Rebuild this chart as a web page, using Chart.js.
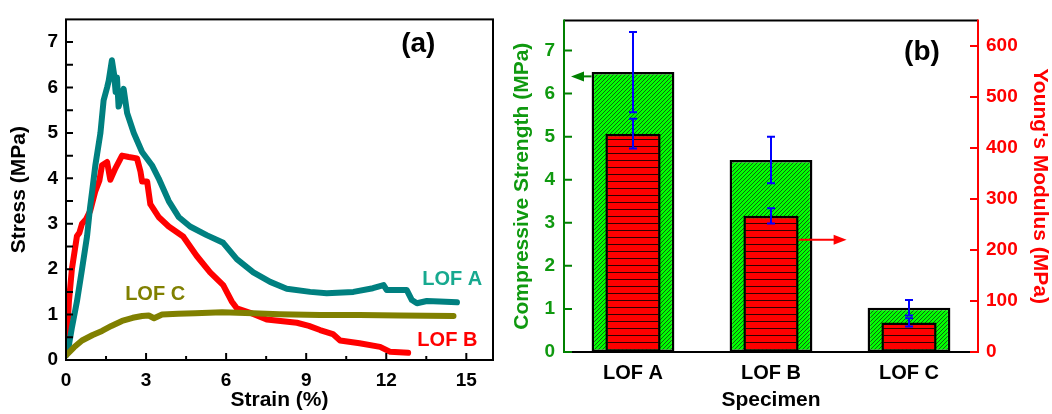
<!DOCTYPE html>
<html>
<head>
<meta charset="utf-8">
<script src="https://cdn.jsdelivr.net/npm/chart.js@4.4.1/dist/chart.umd.min.js"></script>
<style>
  html, body { margin: 0; padding: 0; background: #fff; }
  #wrap { position: relative; width: 1052px; height: 414px; overflow: hidden; }
  #chartA { position: absolute; left: 0; top: 0; }
  #chartB { position: absolute; left: 500px; top: 0; }
</style>
</head>
<body>
<div id="wrap">
  <canvas id="chartA" width="500" height="414"></canvas>
  <canvas id="chartB" width="552" height="414"></canvas>
</div>
<script>
// (a) stress-strain curves
const strainA = [0, 0.1, 0.22, 0.41, 0.6, 0.79, 0.9, 0.98, 1.1, 1.29, 1.41, 1.54, 1.6, 1.72, 1.8, 1.86, 1.91, 1.97, 2.16, 2.29, 2.54, 2.85, 3.22, 3.47, 3.85, 4.22, 4.65, 5.27, 5.89, 6.4, 7.02, 7.65, 8.27, 9.15, 9.77, 10.77, 11.5, 11.9, 12.02, 12.77, 12.96, 13.15, 13.52, 14.0, 14.65];
const stressA = [0.1, 0.3, 0.71, 1.29, 2.0, 2.73, 3.35, 3.72, 4.29, 5.0, 5.72, 6.0, 6.15, 6.6, 6.3, 5.9, 6.22, 5.58, 5.97, 5.44, 5.0, 4.58, 4.29, 4.0, 3.5, 3.15, 2.94, 2.75, 2.58, 2.22, 1.93, 1.72, 1.57, 1.5, 1.47, 1.5, 1.58, 1.65, 1.54, 1.54, 1.32, 1.25, 1.3, 1.29, 1.27];

const strainB = [0, 0.11, 0.22, 0.41, 0.5, 0.6, 0.75, 0.91, 1.1, 1.25, 1.35, 1.54, 1.66, 1.85, 2.1, 2.35, 2.66, 2.79, 2.85, 3.04, 3.16, 3.47, 3.85, 4.39, 4.9, 5.4, 5.89, 6.21, 6.4, 6.9, 7.52, 8.65, 9.1, 9.52, 10.0, 10.27, 11.0, 11.77, 12.15, 12.82];
const stressB = [0.14, 1.29, 2.0, 2.73, 2.8, 3.0, 3.1, 3.29, 3.72, 3.95, 4.29, 4.36, 3.97, 4.22, 4.5, 4.47, 4.44, 4.15, 3.93, 3.93, 3.43, 3.15, 2.94, 2.72, 2.29, 1.93, 1.65, 1.29, 1.14, 1.04, 0.89, 0.82, 0.75, 0.66, 0.57, 0.43, 0.37, 0.29, 0.18, 0.16];

const strainC = [0, 0.3, 0.6, 1.0, 1.35, 1.7, 2.1, 2.5, 2.85, 3.1, 3.3, 3.6, 4.2, 4.84, 5.85, 7.0, 8.0, 9.52, 11.0, 12.5, 14.52];
const stressC = [0.1, 0.28, 0.43, 0.55, 0.64, 0.75, 0.86, 0.93, 0.97, 0.98, 0.92, 1.0, 1.02, 1.03, 1.05, 1.03, 1.01, 0.99, 0.99, 0.98, 0.97];

const strainTicks = [0, 3, 6, 9, 12, 15];
const stressTicks = [0, 1, 2, 3, 4, 5, 6, 7];

// (b) bars with error bars
const specimens = ['LOF A', 'LOF B', 'LOF C'];
const strength = [6.5, 4.46, 1.03];
const strengthErr = [0.93, 0.54, 0.18];
const modulus = [428, 267, 58];
const modulusErr = [29, 15, 8];
const strengthTicks = [0, 1, 2, 3, 4, 5, 6, 7];
const modulusTicks = [0, 100, 200, 300, 400, 500, 600];

const FONT = "'Liberation Sans', Arial, sans-serif";
const GREEN = '#0f990f';
Chart.defaults.font.family = FONT;
Chart.defaults.font.weight = 'bold';
Chart.defaults.color = '#000';

function pts(xs, ys) {
    return xs.map((x, i) => ({ x: x, y: ys[i] }));
}

function makePattern(fill, kind) {
    const c = document.createElement('canvas');
    const g = c.getContext('2d');
    if (kind === 'diag') {
        c.width = 4; c.height = 4;
        g.fillStyle = fill;
        g.fillRect(0, 0, 4, 4);
        g.strokeStyle = '#1a1a1a';
        g.lineWidth = 0.7;
        g.beginPath();
        g.moveTo(0, 4); g.lineTo(4, 0);
        g.moveTo(-1, 1); g.lineTo(1, -1);
        g.moveTo(3, 5); g.lineTo(5, 3);
        g.stroke();
    } else {
        c.width = 4; c.height = 7;
        g.fillStyle = fill;
        g.fillRect(0, 0, 4, 7);
        g.fillStyle = '#300';
        g.fillRect(0, 6, 4, 1);
    }
    return g.createPattern(c, 'repeat');
}

const frameA = {
    id: 'frameA',
    afterDatasetsDraw(chart) {
        const { ctx, chartArea: a, scales: { x, y } } = chart;
        ctx.save();
        ctx.strokeStyle = '#000';
        ctx.lineWidth = 2;
        ctx.strokeRect(a.left, a.top, a.right - a.left, a.bottom - a.top);
        ctx.beginPath();
        strainTicks.forEach(v => {
            let px = x.getPixelForValue(v);
            ctx.moveTo(px, a.bottom); ctx.lineTo(px, a.bottom - 7);
            px = x.getPixelForValue(v + 1.5);
            if (px < a.right) { ctx.moveTo(px, a.bottom); ctx.lineTo(px, a.bottom - 4); }
        });
        stressTicks.forEach(v => {
            let py = y.getPixelForValue(v);
            ctx.moveTo(a.left, py); ctx.lineTo(a.left + 7, py);
            py = y.getPixelForValue(v + 0.5);
            if (py > a.top) { ctx.moveTo(a.left, py); ctx.lineTo(a.left + 7, py); }
        });
        ctx.stroke();

        ctx.textAlign = 'center';
        ctx.textBaseline = 'middle';
        ctx.font = 'bold 28px ' + FONT;
        ctx.fillStyle = '#000';
        ctx.fillText('(a)', x.getPixelForValue(13.2), y.getPixelForValue(6.95));
        ctx.font = 'bold 20px ' + FONT;
        ctx.fillStyle = '#17a98f';
        ctx.fillText('LOF A', x.getPixelForValue(14.47), y.getPixelForValue(1.78));
        ctx.fillStyle = '#ff0000';
        ctx.fillText('LOF B', x.getPixelForValue(14.29), y.getPixelForValue(0.43));
        ctx.fillStyle = '#808000';
        ctx.fillText('LOF C', x.getPixelForValue(3.34), y.getPixelForValue(1.44));
        ctx.restore();
    }
};

const lineStyle = { pointRadius: 0, borderWidth: 6, borderJoinStyle: 'round', borderCapStyle: 'round', tension: 0 };

const chartA = new Chart(document.getElementById('chartA'), {
    type: 'line',
    data: {
        datasets: [
            Object.assign({ label: 'LOF A', data: pts(strainA, stressA), borderColor: '#008080', order: 1 }, lineStyle),
            Object.assign({ label: 'LOF B', data: pts(strainB, stressB), borderColor: '#ff0000', order: 2 }, lineStyle),
            Object.assign({ label: 'LOF C', data: pts(strainC, stressC), borderColor: '#808000', order: 0 }, lineStyle)
        ]
    },
    options: {
        responsive: false,
        animation: false,
        layout: { padding: { top: 11, right: 7, left: 0, bottom: 0 } },
        plugins: { legend: { display: false }, tooltip: { enabled: false } },
        scales: {
            x: {
                type: 'linear', min: 0, max: 16,
                grid: { display: false, drawTicks: false },
                border: { display: false },
                afterBuildTicks: s => { s.ticks = strainTicks.map(v => ({ value: v })); },
                afterFit: s => { s.height = 54; },
                ticks: { font: { size: 19, weight: 'bold' }, padding: 9, maxRotation: 0 },
                title: { display: true, text: 'Strain (%)', font: { size: 21, weight: 'bold' }, padding: { top: 0, bottom: 1 } }
            },
            y: {
                type: 'linear', min: 0, max: 7.5,
                grid: { display: false, drawTicks: false },
                border: { display: false },
                afterBuildTicks: s => { s.ticks = stressTicks.map(v => ({ value: v })); },
                afterFit: s => { s.width = 66; },
                ticks: { font: { size: 19, weight: 'bold' }, padding: 8 },
                title: { display: true, text: 'Stress (MPa)', font: { size: 21, weight: 'bold' }, padding: { top: 7, bottom: 0 } }
            }
        }
    },
    plugins: [frameA]
});

function arrow(ctx, x1, y, x2, color) {
    const dir = Math.sign(x2 - x1);
    ctx.strokeStyle = color;
    ctx.fillStyle = color;
    ctx.lineWidth = 2;
    ctx.beginPath();
    ctx.moveTo(x1, y); ctx.lineTo(x2 - dir * 10, y);
    ctx.stroke();
    ctx.beginPath();
    ctx.moveTo(x2, y);
    ctx.lineTo(x2 - dir * 13, y - 5);
    ctx.lineTo(x2 - dir * 13, y + 5);
    ctx.closePath();
    ctx.fill();
}

const decorB = {
    id: 'decorB',
    afterDatasetsDraw(chart) {
        const { ctx, chartArea: a, scales: { x, yL, yR } } = chart;
        ctx.save();
        ctx.lineWidth = 2;
        ctx.strokeStyle = '#000';
        ctx.beginPath();
        ctx.moveTo(a.left, a.top); ctx.lineTo(a.right, a.top);
        ctx.moveTo(a.left, a.bottom); ctx.lineTo(a.right, a.bottom);
        ctx.stroke();
        ctx.strokeStyle = '#008000';
        ctx.beginPath();
        ctx.moveTo(a.left, a.top - 1); ctx.lineTo(a.left, a.bottom + 1);
        strengthTicks.forEach(v => {
            const py = yL.getPixelForValue(v);
            ctx.moveTo(a.left, py); ctx.lineTo(a.left + 8, py);
        });
        ctx.stroke();
        ctx.strokeStyle = '#ff0000';
        ctx.beginPath();
        ctx.moveTo(a.right, a.top - 1); ctx.lineTo(a.right, a.bottom + 1);
        modulusTicks.forEach(v => {
            const py = yR.getPixelForValue(v);
            ctx.moveTo(a.right, py); ctx.lineTo(a.right - 8, py);
        });
        ctx.stroke();

        // error bars
        ctx.strokeStyle = '#0000ff';
        ctx.lineWidth = 2;
        chart.data.datasets.forEach((ds, di) => {
            const meta = chart.getDatasetMeta(di);
            const ys = chart.scales[ds.yAxisID];
            const errs = ds.yAxisID === 'yL' ? strengthErr : modulusErr;
            meta.data.forEach((bar, i) => {
                const top = ys.getPixelForValue(ds.data[i] + errs[i]);
                const bot = ys.getPixelForValue(ds.data[i] - errs[i]);
                ctx.beginPath();
                ctx.moveTo(bar.x, top); ctx.lineTo(bar.x, bot);
                ctx.moveTo(bar.x - 4, top); ctx.lineTo(bar.x + 4, top);
                ctx.moveTo(bar.x - 4, bot); ctx.lineTo(bar.x + 4, bot);
                ctx.stroke();
            });
        });

        // arrows pointing to each axis
        const gBar = chart.getDatasetMeta(1).data[0];
        arrow(ctx, gBar.x - gBar.width / 2, yL.getPixelForValue(6.4), a.left + 7, '#008000');
        const rBar = chart.getDatasetMeta(0).data[1];
        const rx = rBar.x + rBar.width / 2;
        arrow(ctx, rx, yR.getPixelForValue(220), rx + 48, '#ff0000');

        ctx.fillStyle = '#000';
        ctx.font = 'bold 28px ' + FONT;
        ctx.textAlign = 'center';
        ctx.textBaseline = 'middle';
        ctx.fillText('(b)', x.getPixelForValue(2) + 13, yL.getPixelForValue(6.95));
        ctx.restore();
    }
};

const chartB = new Chart(document.getElementById('chartB'), {
    type: 'bar',
    data: {
        labels: specimens,
        datasets: [
            {
                label: "Young's Modulus", data: modulus, yAxisID: 'yR',
                backgroundColor: makePattern('#ff0000', 'horiz'),
                borderColor: '#000', borderWidth: 2.5, borderSkipped: false,
                barPercentage: 0.4, categoryPercentage: 1, grouped: false, order: 1
            },
            {
                label: 'Compressive Strength', data: strength, yAxisID: 'yL',
                backgroundColor: makePattern('#00ff00', 'diag'),
                borderColor: '#000', borderWidth: 2.5, borderSkipped: false,
                barPercentage: 0.6, categoryPercentage: 1, grouped: false, order: 2
            }
        ]
    },
    options: {
        responsive: false,
        animation: false,
        layout: { padding: { top: 14, right: 0, left: 0, bottom: 0 } },
        plugins: { legend: { display: false }, tooltip: { enabled: false } },
        scales: {
            x: {
                grid: { display: false, drawTicks: false },
                border: { display: false },
                afterFit: s => { s.height = 62; },
                ticks: { font: { size: 20, weight: 'bold' }, padding: 9 },
                title: { display: true, text: 'Specimen', font: { size: 21, weight: 'bold' }, padding: { top: 0, bottom: 1 } }
            },
            yL: {
                position: 'left', min: 0, max: 7.7,
                grid: { display: false, drawTicks: false },
                border: { display: false },
                afterBuildTicks: s => { s.ticks = strengthTicks.map(v => ({ value: v })); },
                afterFit: s => { s.width = 64; },
                ticks: { color: GREEN, font: { size: 19, weight: 'bold' }, padding: 9 },
                title: { display: true, text: 'Compressive Strength (MPa)', color: GREEN, font: { size: 21, weight: 'bold' }, padding: { top: 10, bottom: 0 } }
            },
            yR: {
                position: 'right', min: 0, max: 650,
                grid: { display: false, drawTicks: false },
                border: { display: false },
                afterBuildTicks: s => { s.ticks = modulusTicks.map(v => ({ value: v })); },
                afterFit: s => { s.width = 74; },
                ticks: { color: '#ff0000', font: { size: 19, weight: 'bold' }, padding: 8 },
                title: { display: true, text: "Young's Modulus (MPa)", color: '#ff0000', font: { size: 21, weight: 'bold' }, padding: { top: 0, bottom: 0 } }
            }
        }
    },
    plugins: [decorB]
});
</script>
</body>
</html>
